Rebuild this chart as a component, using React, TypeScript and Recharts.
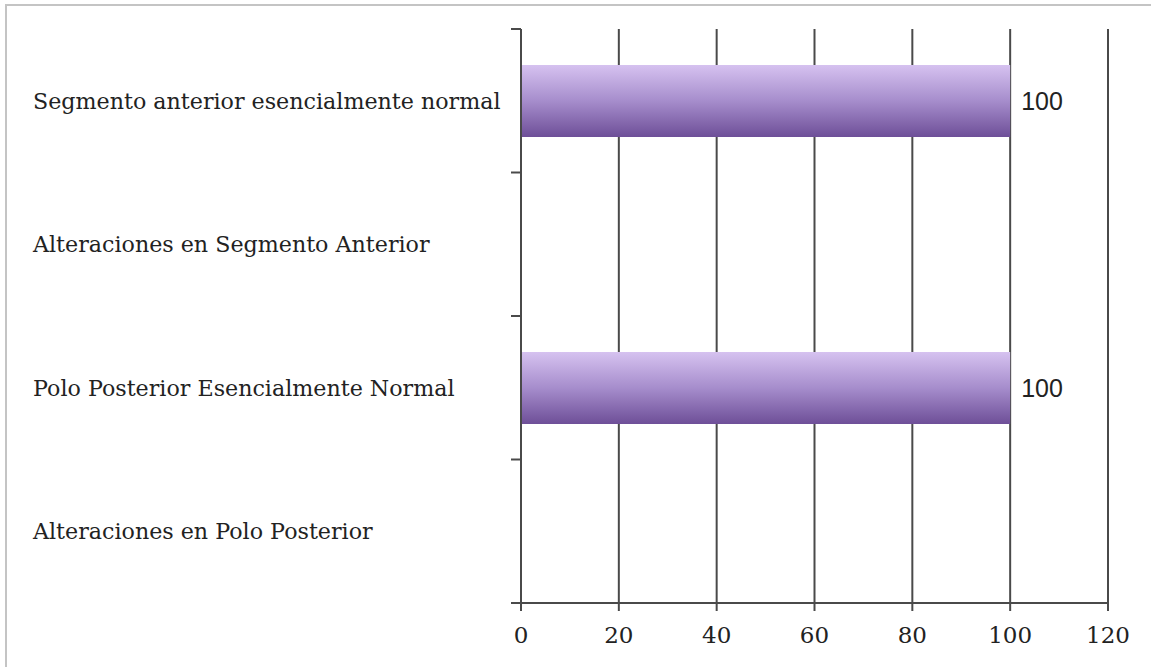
import React from "react";
import { BarChart, Bar, XAxis, YAxis, CartesianGrid, LabelList } from "recharts";

const categories = [
  "Segmento anterior esencialmente normal",
  "Alteraciones en Segmento Anterior",
  "Polo Posterior Esencialmente Normal",
  "Alteraciones en Polo Posterior",
];
const values = [100, 0, 100, 0];
const xTicks = [0, 20, 40, 60, 80, 100, 120];

const data = categories.map((name, i) => ({ name, value: values[i] }));

const SERIF = "'DejaVu Serif', serif";
const AXIS = "#4a4a4a";

const CategoryTick = (props: any) => {
  const { y, payload, index } = props;
  const band = 574 / categories.length;
  const x0 = 521;
  return (
    <g>
      <text x={33} y={y} textAnchor="start" dominantBaseline="central" fontFamily={SERIF} fontSize={22.2} fill="#222">
        {payload.value}
      </text>
      <line x1={x0 - 10} x2={x0} y1={y - band / 2} y2={y - band / 2} stroke={AXIS} strokeWidth={2} />
      {index === categories.length - 1 ? (
        <line x1={x0 - 10} x2={x0} y1={y + band / 2} y2={y + band / 2} stroke={AXIS} strokeWidth={2} />
      ) : null}
    </g>
  );
};

const XTick = (props: any) => {
  const { x, y, payload } = props;
  return (
    <text x={x} y={y + 22} textAnchor="middle" dominantBaseline="central" fontFamily={SERIF} fontSize={23} fill="#222">
      {payload.value}
    </text>
  );
};

const ValueLabel = (props: any) => {
  const { x, y, width, height, value } = props;
  if (!value) return null;
  return (
    <text x={x + width + 11} y={y + height / 2} dominantBaseline="central" fontFamily="'Liberation Sans', sans-serif" fontSize={25} fill="#222">
      {value}
    </text>
  );
};

export default function App() {
  return (
    <div style={{ position: "absolute", left: 0, top: 0, width: 1151, height: 667, background: "#fff", overflow: "hidden" }}>
      <div style={{ position: "absolute", left: 5, top: 4, width: 1200, height: 700, borderLeft: "2px solid #c4c4c4", borderTop: "2px solid #c4c4c4" }} />
      <div style={{ position: "absolute", left: 0, top: 0 }}>
        <BarChart
          width={1151}
          height={667}
          data={data}
          layout="vertical"
          margin={{ top: 29, right: 43, bottom: 24, left: 0 }}
          barCategoryGap="25%"
        >
          <defs>
            <linearGradient id="barGrad" x1="0" y1="0" x2="0" y2="1">
              <stop offset="0%" stopColor="#d6c2f0" />
              <stop offset="50%" stopColor="#a68dcc" />
              <stop offset="100%" stopColor="#6e4f98" />
            </linearGradient>
          </defs>
          <CartesianGrid horizontal={false} stroke={AXIS} strokeWidth={2} />
          <XAxis
            type="number"
            domain={[0, 120]}
            ticks={xTicks}
            interval={0}
            height={40}
            axisLine={{ stroke: AXIS, strokeWidth: 2 }}
            tickLine={{ stroke: AXIS, strokeWidth: 2 }}
            tickSize={8}
            tick={<XTick />}
          />
          <YAxis
            type="category"
            dataKey="name"
            width={521}
            axisLine={{ stroke: AXIS, strokeWidth: 2 }}
            tickLine={false}
            tick={<CategoryTick />}
            interval={0}
          />
          <Bar dataKey="value" fill="url(#barGrad)" isAnimationActive={false}>
            <LabelList dataKey="value" content={<ValueLabel />} />
          </Bar>
        </BarChart>
      </div>
    </div>
  );
}
